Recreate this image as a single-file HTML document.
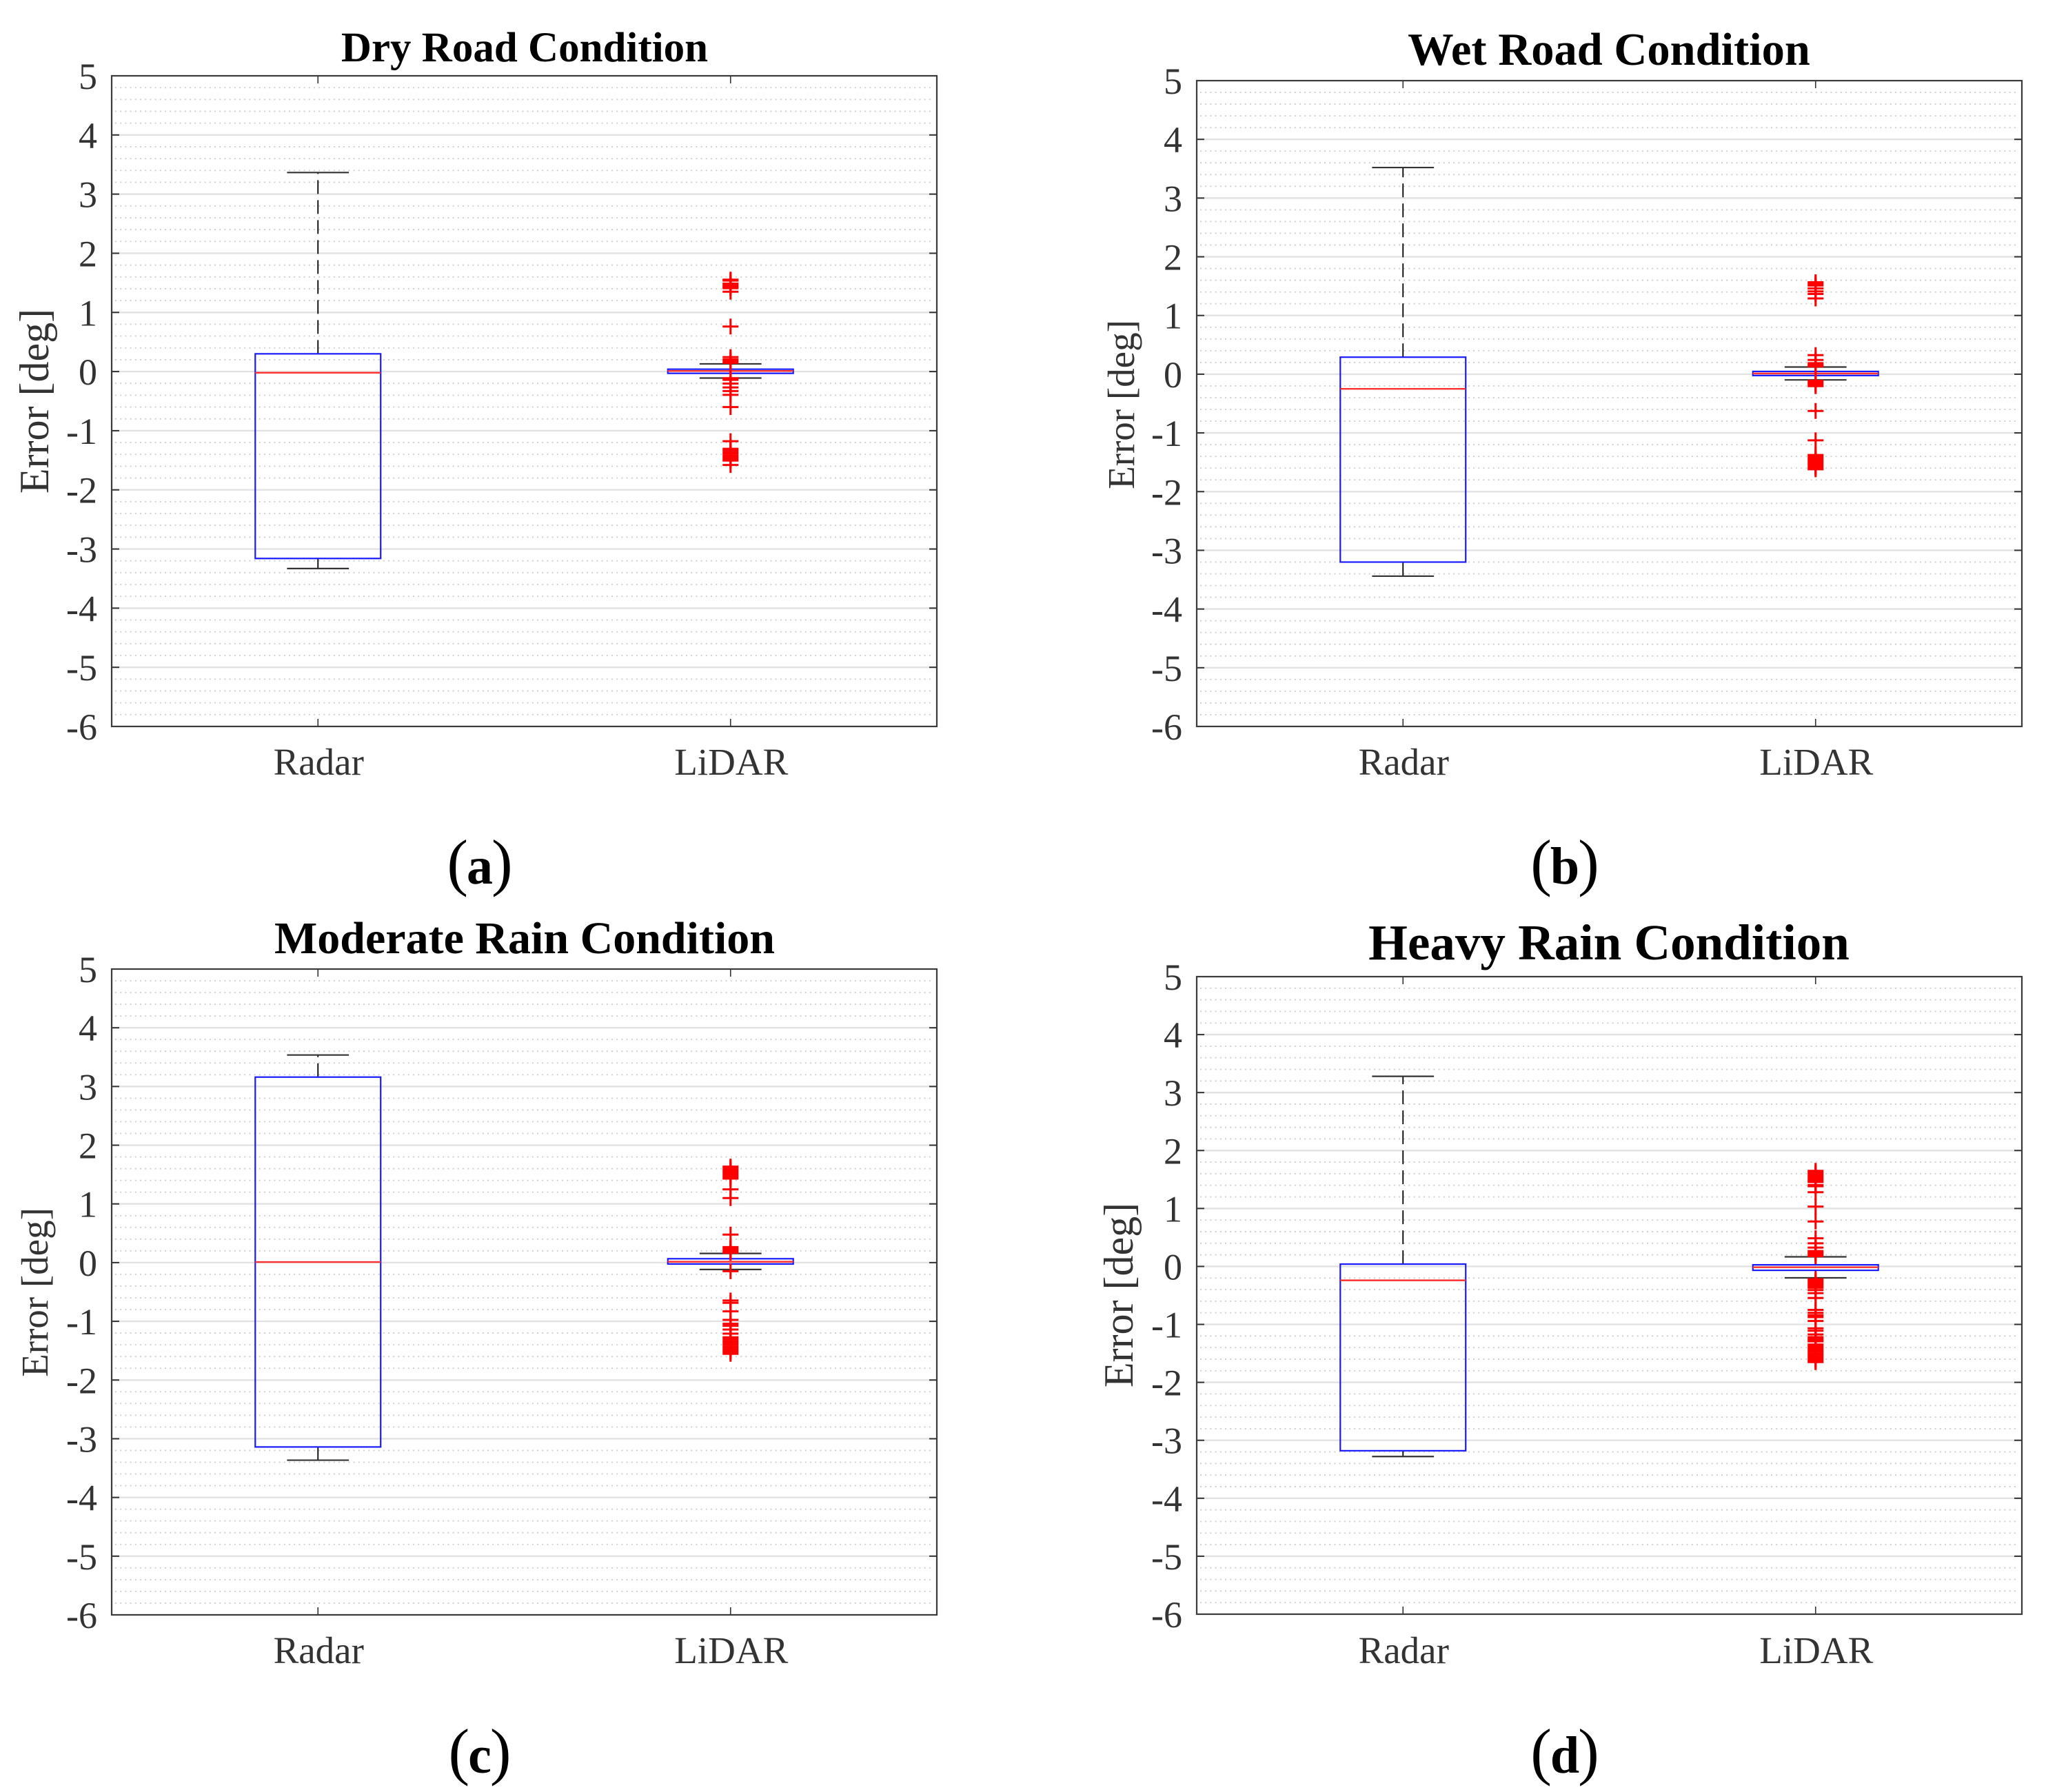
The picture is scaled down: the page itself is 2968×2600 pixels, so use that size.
<!DOCTYPE html>
<html lang="en">
<head>
<meta charset="utf-8">
<title>Radar and LiDAR error box plots</title>
<style>
html,body{margin:0;padding:0;background:#fff;}
#figure{display:block;position:absolute;left:0;top:0;}
text{font-family:"Liberation Serif","Times New Roman",serif;}
</style>
</head>
<body>
<svg id="figure" xmlns="http://www.w3.org/2000/svg" width="2968" height="2600" viewBox="0 0 2968 2600"></svg>
<script>
// ---- Chart data ----
const categories = ['Radar', 'LiDAR'];
const yTickValues = [5, 4, 3, 2, 1, 0, -1, -2, -3, -4, -5, -6];
const yTickLabels = ['5', '4', '3', '2', '1', '0', '-1', '-2', '-3', '-4', '-5', '-6'];

// Box stats order: lower whisker, q1, median, q3, upper whisker
const dryRadarStats = [-3.33, -3.16, -0.02, 0.30, 3.365];
const dryLidarStats = [-0.11, -0.03, 0.01, 0.04, 0.13];
const dryLidarOutliers = [1.554, 1.538, 1.487, 1.468, 1.445, 1.425, 1.41, 1.35, 0.761, 0.245, 0.205, 0.178, 0.147, -0.113, -0.14, -0.203, -0.268, -0.33, -0.393, -0.6, -1.177, -1.305, -1.332, -1.364, -1.39, -1.424, -1.45, -1.48, -1.505, -1.58];

const wetRadarStats = [-3.44, -3.2, -0.25, 0.29, 3.52];
const wetLidarStats = [-0.097, -0.023, 0.012, 0.047, 0.122];
const wetLidarOutliers = [1.566, 1.538, 1.51, 1.46, 1.41, 1.366, 1.29, 0.325, 0.243, 0.188, 0.16, 0.133, -0.113, -0.144, -0.172, -0.203, -0.626, -1.127, -1.376, -1.407, -1.439, -1.471, -1.503, -1.533, -1.565, -1.597, -1.62];

const moderateRadarStats = [-3.365, -3.14, 0.01, 3.16, 3.536];
const moderateLidarStats = [-0.117, -0.024, 0.015, 0.066, 0.156];
const moderateLidarOutliers = [1.635, 1.607, 1.577, 1.548, 1.518, 1.49, 1.46, 1.431, 1.248, 1.1, 0.477, 0.264, 0.238, 0.21, 0.184, 0.168, -0.146, -0.646, -0.685, -0.83, -0.975, -1.041, -1.077, -1.14, -1.21, -1.272, -1.303, -1.335, -1.366, -1.397, -1.429, -1.46, -1.491, -1.522, -1.554];

const heavyRadarStats = [-3.28, -3.18, -0.24, 0.04, 3.28];
const heavyLidarStats = [-0.197, -0.067, -0.015, 0.028, 0.166];
const heavyLidarOutliers = [1.649, 1.621, 1.59, 1.562, 1.53, 1.503, 1.475, 1.456, 1.404, 1.384, 1.281, 1.032, 0.776, 0.486, 0.4, 0.325, 0.265, 0.237, 0.206, 0.178, -0.221, -0.249, -0.28, -0.308, -0.34, -0.367, -0.408, -0.462, -0.545, -0.75, -0.8, -0.842, -0.874, -0.941, -1.068, -1.11, -1.173, -1.22, -1.249, -1.277, -1.293, -1.348, -1.38, -1.411, -1.443, -1.474, -1.506, -1.538, -1.569, -1.6, -1.633, -1.65];

// ---- Layout (geometry only) ----
const panels = [
  {id:'dry', title:'Dry Road Condition', tag:'a', radar:dryRadarStats, lidar:dryLidarStats, out:dryLidarOutliers,
   left:162, right:1359, top:110, bottom:1054, titleSize:61, titleX:761, titleY:89, ylabelSize:60, ylabelX:70, ylabelY:582, tickRight:141, xlabelY:1124, tagX:696, tagY:1282},
  {id:'wet', title:'Wet Road Condition', tag:'b', radar:wetRadarStats, lidar:wetLidarStats, out:wetLidarOutliers,
   left:1736, right:2933, top:117, bottom:1054, titleSize:66.5, titleX:2334, titleY:94, ylabelSize:55, ylabelX:1645, ylabelY:587, tickRight:1715, xlabelY:1124, tagX:2270, tagY:1282},
  {id:'moderate', title:'Moderate Rain Condition', tag:'c', radar:moderateRadarStats, lidar:moderateLidarStats, out:moderateLidarOutliers,
   left:162, right:1359, top:1406, bottom:2343, titleSize:66, titleX:761, titleY:1383, ylabelSize:55, ylabelX:69, ylabelY:1875, tickRight:141, xlabelY:2413, tagX:696, tagY:2572},
  {id:'heavy', title:'Heavy Rain Condition', tag:'d', radar:heavyRadarStats, lidar:heavyLidarStats, out:heavyLidarOutliers,
   left:1736, right:2933, top:1417, bottom:2342, titleSize:73, titleX:2334, titleY:1392, ylabelSize:60, ylabelX:1643, ylabelY:1879, tickRight:1715, xlabelY:2413, tagX:2270, tagY:2572}
];

// ---- Drawing helpers ----
const SVGNS = 'http://www.w3.org/2000/svg';
const root = document.getElementById('figure');
const Y_MAX = 5, Y_MIN = -6;
const BOX_HALF = 0.152, CAP_HALF = 0.075, MARK = 11.5, TICK = 11;

function make(tag, attrs, parent) {
  const node = document.createElementNS(SVGNS, tag);
  for (const k in attrs) node.setAttribute(k, attrs[k]);
  parent.appendChild(node);
  return node;
}
function yScale(p, v) { return p.top + (Y_MAX - v) / (Y_MAX - Y_MIN) * (p.bottom - p.top); }
function xScale(p, pos) { return p.left + (pos - 0.5) / 2 * (p.right - p.left); }

function drawBox(p, group, idx, stats, label) {
  const cx = xScale(p, idx + 1);
  const x0 = xScale(p, idx + 1 - BOX_HALF);
  const x1 = xScale(p, idx + 1 + BOX_HALF);
  const c0 = xScale(p, idx + 1 - CAP_HALF);
  const c1 = xScale(p, idx + 1 + CAP_HALF);
  const yLow = yScale(p, stats[0]), yQ1 = yScale(p, stats[1]), yMed = yScale(p, stats[2]), yQ3 = yScale(p, stats[3]), yHigh = yScale(p, stats[4]);

  const g = make('g', {}, group);
  
  

  const wu = make('line', {x1:cx, x2:cx, y1:yQ3, y2:yHigh, stroke:'#000', 'stroke-width':1.8, 'stroke-dasharray':'20 9'}, g);
  
  

  const wl = make('line', {x1:cx, x2:cx, y1:yQ1, y2:yLow, stroke:'#000', 'stroke-width':1.8, 'stroke-dasharray':'20 9'}, g);
  
  

  const cu = make('line', {x1:c0, x2:c1, y1:yHigh, y2:yHigh, stroke:'#333', 'stroke-width':2.2}, g);
  
  

  const cl = make('line', {x1:c0, x2:c1, y1:yLow, y2:yLow, stroke:'#333', 'stroke-width':2.2}, g);
  
  

  const box = make('rect', {x:x0, y:yQ3, width:x1 - x0, height:yQ1 - yQ3, fill:'none', stroke:'#1a1aff', 'stroke-width':2.2}, g);
  
  

  const med = make('line', {x1:x0, x2:x1, y1:yMed, y2:yMed, stroke:'#ff3030', 'stroke-width':2.4}, g);
  
  
}

function drawPanel(p) {
  const group = make('g', {}, root);
  
  

  // minor grid (every 0.2 units)
  const minor = make('g', {stroke:'#cfcfcf', 'stroke-width':1.9, 'stroke-dasharray':'2 5.2'}, group);
  
  
  for (let i = 1; i < (Y_MAX - Y_MIN) * 5; i++) {
    if (i % 5 === 0) continue;
    const y = yScale(p, Y_MIN + i * 0.2);
    const ml = make('line', {x1:p.left + 5, x2:p.right - 4, y1:y, y2:y}, minor);
    
    
  }

  // major grid, ticks and tick labels
  yTickValues.forEach(function (v, i) {
    const y = yScale(p, v);
    if (v !== Y_MAX && v !== Y_MIN) {
      const gl = make('line', {x1:p.left, x2:p.right, y1:y, y2:y, stroke:'#e2e2e2', 'stroke-width':2.4}, group);
      
      
      const tl = make('line', {x1:p.left, x2:p.left + TICK, y1:y, y2:y, stroke:'#333', 'stroke-width':2}, group);
      
      
      const tr = make('line', {x1:p.right - TICK, x2:p.right, y1:y, y2:y, stroke:'#333', 'stroke-width':2}, group);
      
      
    }
    const t = make('text', {x:p.tickRight, y:y + 19, 'text-anchor':'end', 'font-size':54, fill:'#333'}, group);
    t.textContent = yTickLabels[i];
    
    
  });

  // x ticks and labels
  categories.forEach(function (name, i) {
    const x = xScale(p, i + 1);
    const tt = make('line', {x1:x, x2:x, y1:p.top, y2:p.top + TICK, stroke:'#333', 'stroke-width':1.6}, group);
    
    
    const tb = make('line', {x1:x, x2:x, y1:p.bottom - TICK, y2:p.bottom, stroke:'#333', 'stroke-width':1.6}, group);
    
    
    const t = make('text', {x:x + 1, y:p.xlabelY, 'text-anchor':'middle', 'font-size':55, fill:'#333'}, group);
    t.textContent = name;
    
    
  });

  // boxes
  drawBox(p, group, 0, p.radar, 'radar');
  drawBox(p, group, 1, p.lidar, 'lidar');

  // outliers
  const ox = xScale(p, 2);
  const og = make('g', {stroke:'#ff0000', 'stroke-width':3}, group);
  
  
  p.out.forEach(function (v) {
    const y = yScale(p, v);
    const m = make('path', {d:'M' + (ox - MARK) + ' ' + y + 'H' + (ox + MARK) + 'M' + ox + ' ' + (y - MARK) + 'V' + (y + MARK), fill:'none'}, og);
    
    
  });

  // axes frame
  const frame = make('rect', {x:p.left, y:p.top, width:p.right - p.left, height:p.bottom - p.top, fill:'none', stroke:'#3a3a3a', 'stroke-width':2.2}, group);
  
  

  // title
  const title = make('text', {x:p.titleX, y:p.titleY, 'text-anchor':'middle', 'font-size':p.titleSize, 'font-weight':'bold', fill:'#000'}, group);
  title.textContent = p.title;
  
  

  // y axis title
  const yl = make('text', {transform:'translate(' + p.ylabelX + ' ' + p.ylabelY + ') rotate(-90)', 'text-anchor':'middle', 'font-size':p.ylabelSize, fill:'#333'}, group);
  yl.textContent = 'Error [deg]';
  
  

  // sub-figure tag
  const tag = make('text', {x:p.tagX, y:p.tagY, 'text-anchor':'middle', 'font-size':92, fill:'#000'}, group);
  
  
  const s1 = make('tspan', {}, tag);
  s1.textContent = '(';
  const s2 = make('tspan', {'font-weight':'bold', 'font-size':76, dx:-2}, tag);
  s2.textContent = p.tag;
  const s3 = make('tspan', {dx:-2}, tag);
  s3.textContent = ')';
}

panels.forEach(drawPanel);
</script>
</body>
</html>
